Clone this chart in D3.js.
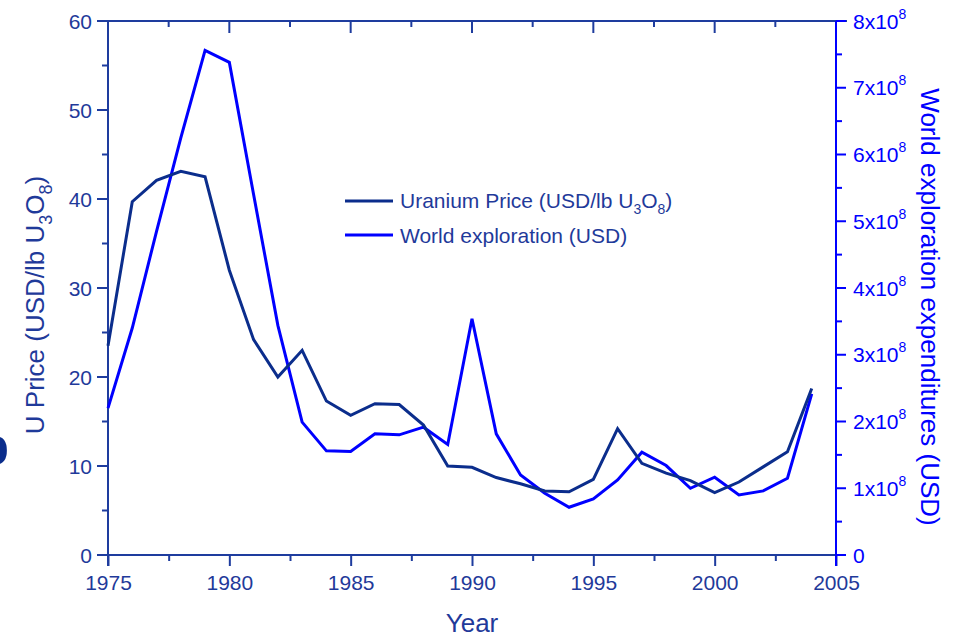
<!DOCTYPE html>
<html>
<head>
<meta charset="utf-8">
<script src="https://cdn.jsdelivr.net/npm/d3@7/dist/d3.min.js"></script>
<style>
  body { margin: 0; background: #fff; }
  svg { display: block; font-family: "Liberation Sans", Arial, sans-serif; }
</style>
</head>
<body>
<svg id="chart" width="953" height="634"></svg>
<script>
// data
const years = [1975, 1976, 1977, 1978, 1979, 1980, 1981, 1982, 1983, 1984,
               1985, 1986, 1987, 1988, 1989, 1990, 1991, 1992, 1993, 1994,
               1995, 1996, 1997, 1998, 1999, 2000, 2001, 2002, 2003, 2004];
const price = [23.5, 39.7, 42.1, 43.1, 42.5, 32.0, 24.2, 20.0, 23.0, 17.3,
               15.7, 17.0, 16.9, 14.6, 10.0, 9.85, 8.7, 8.0, 7.2, 7.1,
               8.5, 14.2, 10.3, 9.2, 8.35, 7.0, 8.2, 9.9, 11.6, 18.7];
const exploration = [2.2e8, 3.4e8, 4.85e8, 6.25e8, 7.56e8, 7.38e8, 5.4e8, 3.44e8, 1.99e8, 1.56e8,
                     1.55e8, 1.815e8, 1.8e8, 1.915e8, 1.655e8, 3.54e8, 1.815e8, 1.2e8, 0.925e8, 0.715e8,
                     0.84e8, 1.125e8, 1.54e8, 1.34e8, 1.0e8, 1.165e8, 0.9e8, 0.96e8, 1.15e8, 2.415e8];
const xTicks = [1975, 1980, 1985, 1990, 1995, 2000, 2005];
const leftTicks = [0, 10, 20, 30, 40, 50, 60];
const rightTicks = [0, 1, 2, 3, 4, 5, 6, 7, 8];

const dark = "#0b2d8c";
const axisCol = "#1e3c9e";
const textCol = "#1f3a9a";
const bright = "#0000ff";

const pLeft = 108, pRight = 836, pTop = 21, pBottom = 555;

const svg = d3.select("#chart");

const x = d3.scaleLinear().domain([1975, 2005]).range([pLeft, pRight]);
const yL = d3.scaleLinear().domain([0, 60]).range([pBottom, pTop]);
const yR = d3.scaleLinear().domain([0, 8e8]).range([pBottom, pTop]);

// panel letter cut off at the left edge
svg.append("text")
    .attr("x", 9).attr("y", 464)
    .attr("text-anchor", "end")
    .attr("font-size", 52).attr("font-weight", "bold")
    .attr("fill", dark)
    .text("b");

// bottom axis
const gx = svg.append("g").attr("transform", `translate(0,${pBottom})`);
gx.call(d3.axisBottom(x).tickValues(d3.range(1975, 2005.1, 2.5)).tickSize(0).tickFormat(""));
gx.select(".domain").remove();
gx.append("line").attr("x1", pLeft - 11).attr("x2", pRight + 10)
    .attr("stroke", axisCol).attr("stroke-width", 2);
gx.selectAll(".tick line").remove();
gx.selectAll(".tick").append("line")
    .attr("y1", 0).attr("y2", d => (d % 5 === 0 ? 11 : 6))
    .attr("stroke", axisCol).attr("stroke-width", 2);
gx.selectAll(".tick").filter(d => xTicks.includes(d)).append("text")
    .attr("y", 35).attr("text-anchor", "middle")
    .attr("font-size", 21).attr("fill", textCol)
    .text(d => d);

// top axis (ticks inward, no labels)
const gt = svg.append("g").attr("transform", `translate(0,${pTop})`);
gt.append("line").attr("x1", pLeft - 11).attr("x2", pRight + 11)
    .attr("stroke", axisCol).attr("stroke-width", 2);
gt.selectAll("line.tk").data(d3.range(1975, 2005.1, 2.5)).join("line")
    .attr("class", "tk")
    .attr("x1", d => x(d)).attr("x2", d => x(d))
    .attr("y1", 0).attr("y2", d => (d % 5 === 0 ? 12 : 6))
    .attr("stroke", axisCol).attr("stroke-width", 2);

// left axis
const gl = svg.append("g").attr("transform", `translate(${pLeft},0)`);
gl.append("line").attr("y1", pTop).attr("y2", pBottom + 11)
    .attr("stroke", axisCol).attr("stroke-width", 2);
gl.selectAll("line.tk").data(d3.range(0, 60.1, 5)).join("line")
    .attr("class", "tk")
    .attr("x1", 0).attr("x2", d => (d % 10 === 0 ? -11 : -6))
    .attr("y1", d => yL(d)).attr("y2", d => yL(d))
    .attr("stroke", axisCol).attr("stroke-width", 2);
gl.selectAll("text").data(leftTicks).join("text")
    .attr("x", -16).attr("y", d => yL(d) + 7.5)
    .attr("text-anchor", "end")
    .attr("font-size", 21).attr("fill", textCol)
    .text(d => d);

// right axis
const gr = svg.append("g").attr("transform", `translate(${pRight},0)`);
gr.append("line").attr("y1", pTop).attr("y2", pBottom + 11)
    .attr("stroke", bright).attr("stroke-width", 2);
gr.selectAll("line.tk").data(d3.range(0, 8.01, 0.5)).join("line")
    .attr("class", "tk")
    .attr("x1", 0).attr("x2", d => (d % 1 === 0 ? 10 : 6))
    .attr("y1", d => yR(d * 1e8)).attr("y2", d => yR(d * 1e8))
    .attr("stroke", bright).attr("stroke-width", 2);
const rl = gr.selectAll("text").data(rightTicks).join("text")
    .attr("x", 17).attr("y", d => yR(d * 1e8) + 7.5)
    .attr("font-size", 21).attr("fill", bright);
rl.filter(d => d === 0).text("0");
rl.filter(d => d !== 0).each(function(d) {
  const t = d3.select(this);
  t.append("tspan").text(`${d}x10`);
  t.append("tspan").attr("dy", -10).attr("font-size", 14).text("8");
});

// lines
const lineL = d3.line().x((d, i) => x(years[i])).y(d => yL(d));
const lineR = d3.line().x((d, i) => x(years[i])).y(d => yR(d));

svg.append("path").datum(exploration)
    .attr("d", lineR).attr("fill", "none")
    .attr("stroke", bright).attr("stroke-width", 3).attr("stroke-linejoin", "miter");
svg.append("path").datum(price)
    .attr("d", lineL).attr("fill", "none")
    .attr("stroke", dark).attr("stroke-width", 3).attr("stroke-linejoin", "miter");

// legend
const leg = svg.append("g");
const legItems = [{col: dark, y: 201}, {col: bright, y: 235}];
leg.selectAll("line").data(legItems).join("line")
    .attr("x1", 345).attr("x2", 393)
    .attr("y1", d => d.y).attr("y2", d => d.y)
    .attr("stroke", d => d.col).attr("stroke-width", 3);
const t1 = leg.append("text").attr("x", 400).attr("y", 208)
    .attr("font-size", 21).attr("fill", textCol);
t1.append("tspan").text("Uranium Price (USD/lb U");
t1.append("tspan").attr("dy", 6).attr("font-size", 14).text("3");
t1.append("tspan").attr("dy", -6).text("O");
t1.append("tspan").attr("dy", 6).attr("font-size", 14).text("8");
t1.append("tspan").attr("dy", -6).text(")");
leg.append("text").attr("x", 400).attr("y", 243)
    .attr("font-size", 21).attr("fill", textCol)
    .text("World exploration (USD)");

// axis titles
svg.append("text")
    .attr("x", 472).attr("y", 632)
    .attr("text-anchor", "middle")
    .attr("font-size", 26).attr("fill", textCol)
    .text("Year");

const lt = svg.append("text")
    .attr("transform", "translate(44,305) rotate(-90)")
    .attr("text-anchor", "middle")
    .attr("font-size", 26).attr("fill", textCol);
lt.append("tspan").text("U Price (USD/lb U");
lt.append("tspan").attr("dy", 8).attr("font-size", 18).text("3");
lt.append("tspan").attr("dy", -8).text("O");
lt.append("tspan").attr("dy", 8).attr("font-size", 18).text("8");
lt.append("tspan").attr("dy", -8).text(")");

svg.append("text")
    .attr("transform", "translate(921,307) rotate(90)")
    .attr("text-anchor", "middle")
    .attr("font-size", 26).attr("fill", bright)
    .text("World exploration expenditures (USD)");
</script>
</body>
</html>
